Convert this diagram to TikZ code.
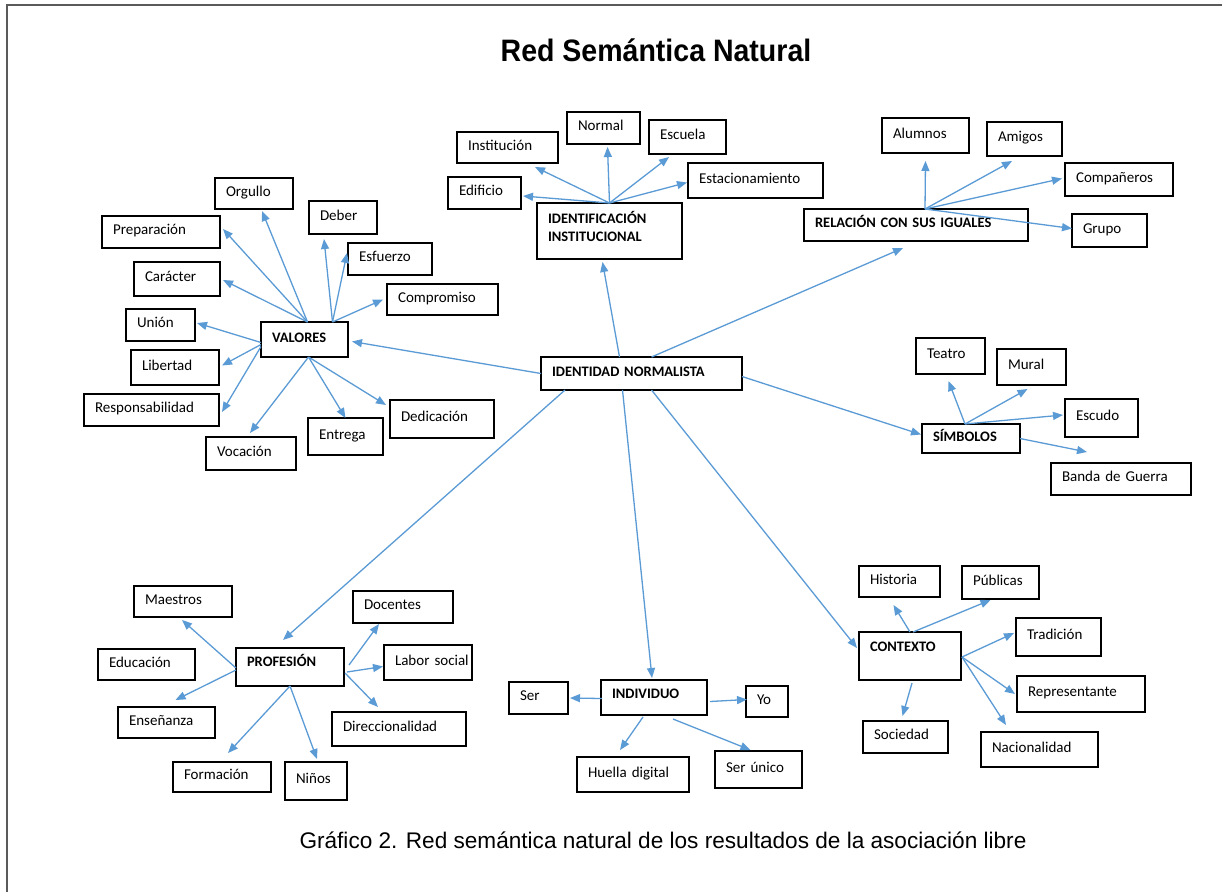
\documentclass[tikz,border=0pt]{standalone}
\usepackage{fontspec}
\setmainfont{Carlito}
\newfontfamily\arialfont{Liberation Sans}
\usepackage{graphicx}
\usepackage[none]{hyphenat}
\usetikzlibrary{arrows.meta}

\definecolor{linkblue}{RGB}{91,155,213}
\definecolor{framegray}{RGB}{90,90,90}

\tikzset{
  box/.style={draw, line width=1.3pt, anchor=north west, align=left, inner xsep=11pt, inner ysep=2pt,
    outer sep=0pt, text height=10pt, text depth=5pt, font=\fontsize{15}{18}\selectfont},
  hub/.style={box, font=\fontsize{14.5}{18}\selectfont\bfseries},
  link/.style={draw=linkblue, line width=1.3pt, -{Triangle[length=10pt,width=8pt]}},
}

\begin{document}
\begin{tikzpicture}[x=1pt,y=-1pt]
\fill[white] (0,0) rectangle (1222,892);
\useasboundingbox (0,0) rectangle (1222,892);
\draw[framegray, line width=2.5pt] (1222,5) -- (7,5) -- (7,892);

\node[font=\arialfont\fontsize{31}{36}\selectfont\bfseries, anchor=base] (title) at (656,61) {\scalebox{0.92}[1]{Red Semántica Natural}};
\node[font=\arialfont\fontsize{22.6}{26}\selectfont, anchor=base] (caption) at (663,848) {Gráfico 2. Red semántica natural de los resultados de la asociación libre};

% centro
\node[hub, text width=179pt, minimum height=33pt] (identidad) at (541,357) {IDENTIDAD~NORMALISTA};

% valores
\node[hub, text width=65pt, minimum height=35pt] (valores) at (261,322) {VALORES};
\node[box, text width=56pt, minimum height=31pt] (orgullo) at (215,178) {Orgullo};
\node[box, text width=96pt, minimum height=32pt] (preparacion) at (102,216) {Preparación};
\node[box, text width=46pt, minimum height=33pt] (deber) at (309,201) {Deber};
\node[box, text width=62pt, minimum height=32pt] (esfuerzo) at (348,243) {Esfuerzo};
\node[box, text width=64pt, minimum height=34pt] (caracter) at (134,262) {Carácter};
\node[box, text width=89pt, minimum height=31pt] (compromiso) at (387,284) {Compromiso};
\node[box, text width=47pt, minimum height=32pt] (union) at (126,309) {Unión};
\node[box, text width=66pt, minimum height=35pt] (libertad) at (131,350) {Libertad};
\node[box, text width=113pt, minimum height=32pt] (responsabilidad) at (84,394) {Responsabilidad};
\node[box, text width=82pt, minimum height=38pt] (dedicacion) at (390,400) {Dedicación};
\node[box, text width=53pt, minimum height=37pt] (entrega) at (308,418) {Entrega};
\node[box, text width=68pt, minimum height=33pt] (vocacion) at (206,437) {Vocación};

\draw[link] ([xshift=3pt]valores.north) -- ([xshift=8pt,yshift=-2pt]orgullo.south);
\draw[link] ([xshift=3pt]valores.north) -- ([xshift=3pt,yshift=3pt]preparacion.east);
\draw[link] ([xshift=3pt]valores.north) -- ([xshift=3pt,yshift=-1pt]caracter.east);
\draw[link] ([xshift=28pt]valores.north) -- ([xshift=-19pt,yshift=-5pt]deber.south);
\draw[link] ([xshift=28pt]valores.north) -- ([xshift=-1pt,yshift=6pt]esfuerzo.west);
\draw[link] ([xshift=28pt]valores.north) -- ([xshift=-4pt]compromiso.west);
\draw[link] ([yshift=-3pt]valores.west) -- ([xshift=2pt,yshift=2pt]union.east);
\draw[link] ([yshift=-5pt]valores.west) -- ([xshift=3pt,yshift=2pt]libertad.east);
\draw[link] ([yshift=-7pt]valores.west) -- ([xshift=3pt,yshift=-2pt]responsabilidad.east);
\draw[link] ([xshift=4pt]valores.south) -- ([xshift=-1pt,yshift=4pt]vocacion.north);
\draw[link] ([xshift=4pt]valores.south) -- (entrega.north);
\draw[link] ([xshift=4pt]valores.south) -- ([xshift=-4pt,yshift=-5pt]dedicacion.north west);
\draw[link] (identidad.west) -- ([xshift=4pt,yshift=-2pt]valores.east);

% identificacion institucional
\node[hub, text width=123pt, minimum height=56pt, text depth=26pt] (identificacion) at (537,203) {IDENTIFICACIÓN\\INSTITUCIONAL};
\node[box, text width=79pt, minimum height=31pt] (institucion) at (457,132) {Institución};
\node[box, text width=51pt, minimum height=32pt] (normal) at (567,112) {Normal};
\node[box, text width=55pt, minimum height=34pt] (escuela) at (649,120) {Escuela};
\node[box, text width=113pt, minimum height=35pt] (estacionamiento) at (688,163) {Estacionamiento};
\node[box, text width=51pt, minimum height=32pt] (edificio) at (448,177) {Edificio};

\draw[link] (identificacion.north) -- ([xshift=-23pt,yshift=-4pt]institucion.south east);
\draw[link] (identificacion.north) -- ([xshift=4pt,yshift=-3pt]normal.south);
\draw[link] (identificacion.north) -- ([xshift=20pt,yshift=-3pt]escuela.south west);
\draw[link] (identificacion.north) -- ([xshift=-1pt,yshift=-2pt]estacionamiento.west);
\draw[link] (identificacion.north) -- ([xshift=2pt,yshift=-3pt]edificio.east);
\draw[link] ([xshift=-22pt]identidad.north) -- ([xshift=-7pt,yshift=-3pt]identificacion.south);

% relacion con sus iguales
\node[hub, text width=202pt, minimum height=32pt] (relacion) at (804,209) {RELACIÓN~CON~SUS~IGUALES};
\node[box, text width=65pt, minimum height=35pt] (alumnos) at (882,118) {Alumnos};
\node[box, text width=53pt, minimum height=34pt] (amigos) at (987,122) {Amigos};
\node[box, text width=86pt, minimum height=33pt] (companeros) at (1065,163) {Compañeros};
\node[box, text width=53pt, minimum height=33pt] (grupo) at (1072,214) {Grupo};

\draw[link] ([xshift=9pt]relacion.north) -- ([yshift=-8pt]alumnos.south);
\draw[link] ([xshift=9pt]relacion.north) -- ([xshift=25pt,yshift=-5pt]amigos.south west);
\draw[link] ([xshift=9pt]relacion.north) -- ([xshift=-3pt,yshift=1pt]companeros.west);
\draw[link] ([xshift=9pt]relacion.north) -- ([yshift=2pt]grupo.west);
\draw[link] ([xshift=10pt]identidad.north) -- ([xshift=-13pt,yshift=-7pt]relacion.south);

% simbolos
\node[hub, text width=76pt, minimum height=29pt] (simbolos) at (922,424) {SÍMBOLOS};
\node[box, text width=47pt, minimum height=36pt] (teatro) at (916,338) {Teatro};
\node[box, text width=47pt, minimum height=36pt] (mural) at (997,349) {Mural};
\node[box, text width=51pt, minimum height=38pt] (escudo) at (1065,399) {Escudo};
\node[box, text width=118pt, minimum height=32pt] (banda) at (1051,463) {Banda~de~Guerra};

\draw[link] ([xshift=-6pt]simbolos.north) -- ([xshift=-2pt,yshift=-7pt]teatro.south);
\draw[link] ([xshift=-6pt]simbolos.north) -- ([xshift=-4pt,yshift=-4pt]mural.south);
\draw[link] ([xshift=-6pt]simbolos.north) -- ([xshift=-2pt,yshift=3pt]escudo.west);
\draw[link] (simbolos.east) -- ([xshift=36pt,yshift=11pt]banda.north west);
\draw[link] ([yshift=-3pt]identidad.east) -- ([xshift=-1pt,yshift=4pt]simbolos.west);

% profesion
\node[hub, text width=86pt, minimum height=38pt, text depth=12pt] (profesion) at (236,648) {PROFESIÓN};
\node[box, text width=76pt, minimum height=31pt] (maestros) at (134,586) {Maestros};
\node[box, text width=78pt, minimum height=32pt] (docentes) at (353,591) {Docentes};
\node[box, text width=75pt, minimum height=31pt] (educacion) at (98,649) {Educación};
\node[box, text width=66pt, minimum height=35pt] (labor) at (384,645) {Labor~social};
\node[box, text width=75pt, minimum height=31pt] (ensenanza) at (118,707) {Enseñanza};
\node[box, text width=112pt, minimum height=34pt] (direccionalidad) at (332,712) {Direccionalidad};
\node[box, text width=76pt, minimum height=30pt] (formacion) at (173,762) {Formación};
\node[box, text width=40pt, minimum height=38pt] (ninos) at (285,762) {Niños};

\draw[link] ([yshift=-1pt]profesion.west) -- ([xshift=-1pt,yshift=-3pt]maestros.south);
\draw[link] ([yshift=-3pt]profesion.west) -- ([xshift=9pt,yshift=7pt]ensenanza.north);
\draw[link] (profesion.south) -- ([xshift=6pt,yshift=9pt]formacion.north);
\draw[link] (profesion.south) -- ([xshift=1pt,yshift=3pt]ninos.north);
\draw[link] ([xshift=5pt,yshift=2pt]profesion.east) -- ([xshift=26pt,yshift=-1pt]docentes.south west);
\draw[link] ([xshift=3pt,yshift=-5pt]profesion.east) -- ([xshift=-1pt,yshift=-4pt]labor.west);
\draw[link] ([xshift=1pt,yshift=-6pt]profesion.east) -- ([xshift=-21pt,yshift=5pt]direccionalidad.north);
\draw[link] ([xshift=24pt]identidad.south west) -- ([xshift=-7pt,yshift=8pt]profesion.north);

% individuo
\node[hub, text width=84pt, minimum height=35pt, text depth=9pt] (individuo) at (601,680) {INDIVIDUO};
\node[box, text width=37pt, minimum height=32pt] (ser) at (509,682) {Ser};
\node[box, text width=20pt, minimum height=31pt] (yo) at (746,686) {Yo};
\node[box, text width=90pt, minimum height=35pt] (huella) at (577,757) {Huella~digital};
\node[box, text width=65pt, minimum height=37pt] (serunico) at (715,751) {Ser~único};

\draw[link] ([xshift=1pt,yshift=-1pt]individuo.west) -- ([xshift=2pt]ser.east);
\draw[link] ([xshift=3pt,yshift=-4pt]individuo.east) -- ([xshift=1pt,yshift=2pt]yo.west);
\draw[link] ([xshift=-11pt,yshift=-2pt]individuo.south) -- ([xshift=-13pt,yshift=7pt]huella.north);
\draw[link] ([xshift=19pt,yshift=-4pt]individuo.south) -- ([xshift=-8pt,yshift=1pt]serunico.north);
\draw[link] ([xshift=-19pt]identidad.south) -- ([xshift=-2pt,yshift=2pt]individuo.north);

% contexto
\node[hub, text width=80pt, minimum height=48pt, text depth=20pt] (contexto) at (859,632) {CONTEXTO};
\node[box, text width=59pt, minimum height=31pt] (historia) at (859,566) {Historia};
\node[box, text width=55pt, minimum height=33pt] (publicas) at (962,566) {Públicas};
\node[box, text width=63pt, minimum height=38pt] (tradicion) at (1016,618) {Tradición};
\node[box, text width=106pt, minimum height=36pt] (representante) at (1017,676) {Representante};
\node[box, text width=63pt, minimum height=32pt] (sociedad) at (863,721) {Sociedad};
\node[box, text width=95pt, minimum height=35pt] (nacionalidad) at (981,732) {Nacionalidad};

\draw[link] (contexto.north) -- ([xshift=-6pt,yshift=-8pt]historia.south);
\draw[link] ([xshift=3pt]contexto.north) -- ([xshift=-10pt,yshift=-1pt]publicas.south);
\draw[link] ([xshift=1pt,yshift=-1pt]contexto.east) -- ([xshift=-2pt,yshift=4pt]tradicion.west);
\draw[link] ([xshift=1pt,yshift=-1pt]contexto.east) -- ([xshift=-2pt]representante.west);
\draw[link] ([xshift=1pt,yshift=-1pt]contexto.east) -- ([xshift=25pt,yshift=7pt]nacionalidad.north west);
\draw[link] ([xshift=2pt,yshift=-3pt]contexto.south) -- ([xshift=-3pt,yshift=5pt]sociedad.north);
\draw[link] ([xshift=10pt]identidad.south) -- ([xshift=-2pt,yshift=8pt]contexto.west);
\end{tikzpicture}
\end{document}
